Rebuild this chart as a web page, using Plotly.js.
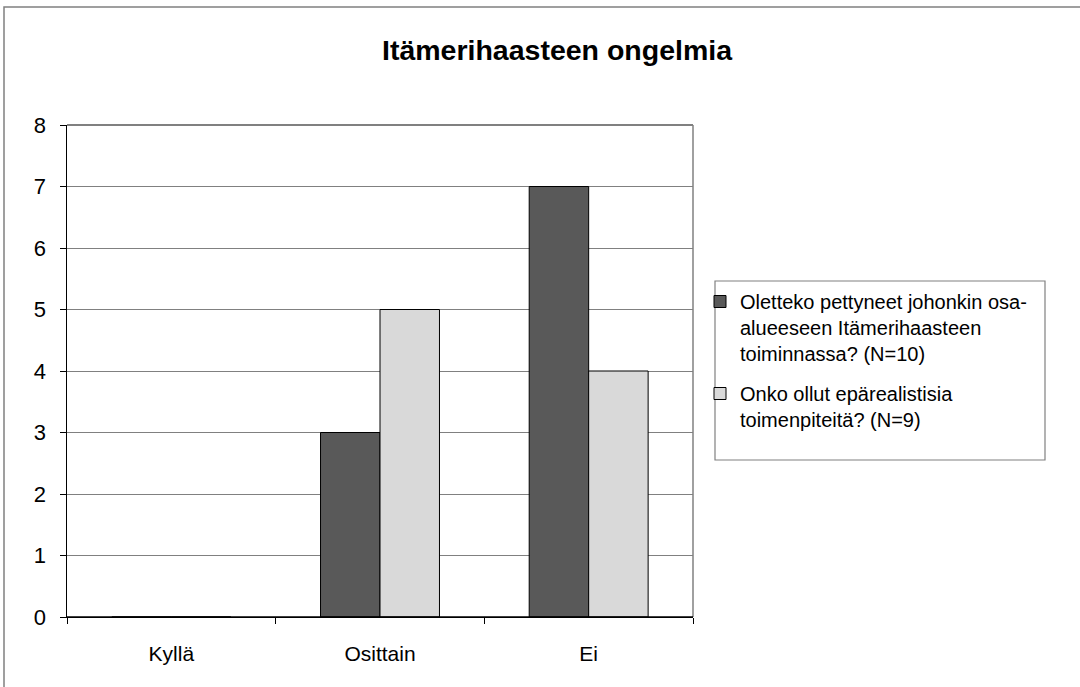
<!DOCTYPE html>
<html><head><meta charset="utf-8">
<script src="https://cdn.plot.ly/plotly-3.0.1.min.js"></script>
<style>body{margin:0;background:#fff}#c{width:1080px;height:687px}</style>
</head><body><div id="c"></div>
<script>
const categories = ["Kyllä", "Osittain", "Ei"];
const series1Name = "Oletteko pettyneet johonkin osa-<br>alueeseen Itämerihaasteen<br>toiminnassa? (N=10)";
const series1Values = [0, 3, 7];
const series2Name = "Onko ollut epärealistisia<br>toimenpiteitä? (N=9)";
const series2Values = [0, 5, 4];
const yTicks = [0, 1, 2, 3, 4, 5, 6, 7, 8];

const W = 1080, H = 687, L = 67, R = 693, T = 125, B = 617;
const pw = R - L, ph = B - T;
const px = v => (v - L) / pw;
const py = v => (B - v) / ph;
const font = "Liberation Sans, Arial, sans-serif";

const traces = [
  {type: "bar", name: series1Name, x: categories, y: series1Values, legendgroup: "a",
   marker: {color: "#595959", line: {color: "#000", width: 1}}},
  {type: "bar", name: series2Name, x: categories, y: series2Values, legendgroup: "b",
   marker: {color: "#d9d9d9", line: {color: "#000", width: 1}}}
];

const layout = {
  width: W, height: H,
  margin: {l: L, r: W - R, t: T, b: H - B, pad: 0},
  paper_bgcolor: "#fff", plot_bgcolor: "#fff",
  font: {family: font, color: "#000", size: 20},
  title: {text: "<b>Itämerihaasteen ongelmia</b>", font: {family: font, size: 28.5, color: "#000"},
          x: 557 / W, xanchor: "center", xref: "container", y: 1 - 50 / H, yanchor: "middle", yref: "container"},
  barmode: "group", bargap: 0.43, bargroupgap: 0,
  showlegend: true,
  legend: {x: px(700), y: py(282), xanchor: "left", yanchor: "top", bgcolor: "rgba(0,0,0,0)",
           borderwidth: 0, font: {family: font, size: 20, color: "#000"}, valign: "top",
           traceorder: "grouped", tracegroupgap: 11, itemwidth: 30},
  xaxis: {type: "category", showline: true, linecolor: "#000", linewidth: 1, layer: "above traces",
          ticks: "outside", tickson: "boundaries", ticklen: 6, tickcolor: "#000",
          showgrid: false, tickfont: {size: 21}, ticklabelstandoff: 18, fixedrange: true},
  yaxis: {range: [0, 8], tickvals: yTicks, showline: true, linecolor: "#000", linewidth: 1.5,
          ticks: "outside", ticklen: 6, tickcolor: "#000", showgrid: true, gridcolor: "#808080",
          gridwidth: 1, zeroline: false, tickfont: {size: 22}, ticklabelstandoff: 9, fixedrange: true},
  shapes: [
    {type: "rect", xref: "paper", yref: "paper", x0: px(4), x1: px(1090), y0: py(700), y1: py(7),
     line: {color: "#808080", width: 1.5}, layer: "below"},
    {type: "line", xref: "paper", yref: "paper", x0: 1, x1: 1, y0: 0, y1: 1,
     line: {color: "#808080", width: 1.5}},
    {type: "line", xref: "paper", yref: "paper", x0: 0, x1: 1, y0: 1, y1: 1,
     line: {color: "#808080", width: 2}},
    {type: "line", xref: "paper", yref: "paper", x0: 0, x1: 1, y0: 0, y1: 0,
     line: {color: "#000", width: 1.5}, layer: "above"},
    {type: "rect", xref: "paper", yref: "paper", x0: px(715), x1: px(1045), y0: py(460), y1: py(281),
     line: {color: "#808080", width: 1.2}}
  ]
};
Plotly.newPlot("c", traces, layout, {displayModeBar: false, staticPlot: true});
</script></body></html>
